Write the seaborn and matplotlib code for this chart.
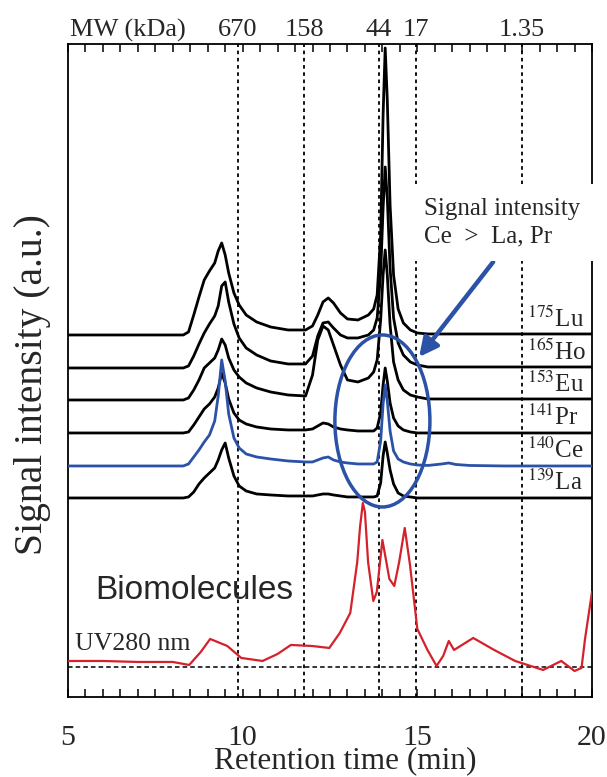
import numpy as np
import pandas as pd
import matplotlib
matplotlib.use("Agg")
import matplotlib.pyplot as plt
import matplotlib.transforms as mtransforms
from matplotlib.patches import Ellipse
from matplotlib.ticker import MultipleLocator
import seaborn as sns

sns.set_theme(style="white")
plt.rcParams["font.family"] = ["Liberation Serif", "DejaVu Serif"]
plt.rcParams["mathtext.fontset"] = "stix"

# --- ICP-MS traces (heights above each trace's own baseline, a.u.) ---
ICP_TIME = [5.0, 8.3, 8.45, 8.6, 8.75, 8.9, 9.05, 9.2, 9.3, 9.4, 9.5, 9.6, 9.75,
            9.9, 10.1, 10.4, 10.8, 11.3, 11.8, 12.0, 12.15, 12.3, 12.45, 12.6,
            12.8, 13.0, 13.3, 13.6, 13.75, 13.85, 13.95, 14.02, 14.08, 14.14,
            14.22, 14.32, 14.45, 14.6, 14.8, 15.0, 15.3, 15.7, 15.9, 16.1, 16.5,
            17.5, 18.5, 19.5, 20.0]

LU_175 = [0, 0, 3, 20, 38, 55, 64, 72, 84, 92, 80, 62, 42,
          30, 20, 13, 8, 5, 5, 9, 20, 33, 37, 32,
          22, 16, 15, 20, 26, 40, 100, 220, 287, 235,
          130, 60, 26, 12, 5, 2, 1, 1, 1, 1, 1,
          1, 1, 1, 1]
HO_165 = [0, 0, 2, 12, 24, 35, 44, 52, 62, 82, 86, 66, 44,
          30, 20, 13, 7, 4, 4, 12, 32, 45, 46, 40,
          33, 30, 30, 33, 38, 50, 95, 160, 201, 170,
          100, 50, 25, 13, 6, 3, 1, 1, 1, 1, 1,
          1, 1, 1, 1]
EU_153 = [0, 0, 2, 10, 20, 32, 37, 42, 50, 61, 55, 42, 30,
          23, 17, 12, 8, 5, 4, 25, 60, 74, 70, 55,
          35, 20, 18, 22, 28, 40, 80, 125, 150, 125,
          75, 38, 20, 10, 5, 3, 1, 1, 1, 1, 1,
          1, 1, 1, 1]
PR_141 = [0, 0, 1, 8, 16, 24, 29, 36, 45, 60, 50, 34, 20,
          13, 9, 6, 4, 3, 3, 4, 7, 10, 9, 6,
          4, 3, 2, 2, 2, 5, 20, 48, 65, 52,
          30, 15, 7, 3, 1, 0, 0, 0, 0, 0, 0,
          0, 0, 0, 0]
CE_140 = [0, 0, 2, 9, 16, 24, 31, 45, 70, 106, 85, 52, 28,
          18, 12, 9, 7, 5, 4, 4, 6, 8, 9, 6,
          4, 3, 2, 2, 2, 4, 25, 62, 81, 65,
          35, 15, 7, 4, 2, 1, 0.5, 2, 3, 1.5, 0.5,
          0, 0, 0, 0]
LA_139 = [0, 0, 1, 6, 14, 20, 25, 30, 38, 48, 55, 40, 22,
          12, 7, 4, 3, 2, 2, 2, 3, 4, 4, 3,
          2, 1, 1, 1, 1, 2, 15, 42, 56, 45,
          28, 14, 5, 2, 1, 0, 0, 0, 0, 0, 0,
          0, 0, 0, 0]

ELEMENTS = ["139La", "140Ce", "141Pr", "153Eu", "165Ho", "175Lu"]
ELEMENT_HEIGHTS = [LA_139, CE_140, PR_141, EU_153, HO_165, LU_175]
ELEMENT_OFFSETS = [199, 231, 264, 297, 329, 362]
ELEMENT_LABELS = [r"$^{139}$La", r"$^{140}$Ce", r"$^{141}$Pr",
                  r"$^{153}$Eu", r"$^{165}$Ho", r"$^{175}$Lu"]

# --- UV 280 nm trace ---
UV_TIME = [5.0, 6.0, 7.0, 8.0, 8.47, 8.8, 9.07, 9.56, 9.96, 10.57, 11.0, 11.38,
           11.98, 12.48, 12.78, 13.08, 13.28, 13.36, 13.44, 13.5, 13.59, 13.74,
           13.84, 14.0, 14.2, 14.34, 14.48, 14.64, 14.79, 15.0, 15.29, 15.55,
           15.74, 15.9, 16.05, 16.6, 17.2, 17.8, 18.6, 19.12, 19.5, 19.7, 19.8, 20.0]
UV_280 = [36, 36, 35, 35, 32, 45, 58, 51, 39, 36, 43, 52,
          51, 49, 64, 84, 135, 170, 194, 185, 135, 96,
          105, 157, 118, 111, 135, 169, 132, 68, 47, 31,
          41, 56, 47, 59, 47, 36, 27, 36, 26, 29, 58, 105]
UV_BASELINE = 30

# --- molecular weight markers ---
MW_TIME = [9.87, 11.77, 13.9, 14.97, 18.0]
MW_LABELS = ["670", "158", "44", "17", "1.35"]

BLUE = "#2b52a6"
RED = "#d4212b"

frames = []
for name, heights, offset in zip(ELEMENTS, ELEMENT_HEIGHTS, ELEMENT_OFFSETS):
    frames.append(pd.DataFrame({
        "time": ICP_TIME,
        "signal": np.asarray(heights, dtype=float) + offset,
        "trace": name,
    }))
icp = pd.concat(frames, ignore_index=True)

palette = {name: "black" for name in ELEMENTS}
palette["140Ce"] = BLUE
draw_order = ["139La", "141Pr", "153Eu", "165Ho", "175Lu", "140Ce"]

fig = plt.figure(figsize=(6.07, 7.77), dpi=100)
ax = fig.add_axes([0.112, 0.103, 0.8633, 0.8404])

for t in MW_TIME:
    ax.axvline(t, color="black", lw=1.3, ls=(0, (2, 2)), zorder=1)
ax.axhline(UV_BASELINE, color="black", lw=1.1, ls=(0, (3, 2)), zorder=1)

sns.lineplot(data=icp, x="time", y="signal", hue="trace", hue_order=draw_order,
             palette=palette, estimator=None, sort=False, legend=False,
             linewidth=2.0, ax=ax, zorder=3)
sns.lineplot(x=UV_TIME, y=UV_280, color=RED, estimator=None, sort=False,
             linewidth=1.6, ax=ax, zorder=3)

for label, offset in zip(ELEMENT_LABELS, ELEMENT_OFFSETS):
    ax.text(18.14, offset + 3, label, fontsize=18, ha="left", va="bottom", zorder=4)

ax.add_patch(Ellipse((14.0, 276), width=2.72, height=172, fill=False,
                     edgecolor=BLUE, lw=2.5, zorder=5))
ax.annotate("", xy=(15.05, 340), xytext=(17.17, 435),
            arrowprops=dict(arrowstyle="-|>", color=BLUE, lw=3.2,
                            mutation_scale=28, shrinkA=0, shrinkB=0),
            zorder=5)
ax.text(15.2, 499, "Signal intensity\nCe  >  La, Pr", fontsize=18,
        ha="left", va="top", linespacing=1.3, zorder=6, clip_on=False,
        bbox=dict(facecolor="white", edgecolor="none", pad=10))

ax.text(5.77, 98, "Biomolecules", fontsize=24, family="Liberation Sans",
        ha="left", va="baseline")
ax.text(5.2, 47, "UV280 nm", fontsize=18.5, ha="left", va="baseline")

top = mtransforms.blended_transform_factory(ax.transData, ax.transAxes)
ax.text(5.06, 1.012, "MW (kDa)", transform=top, fontsize=19,
        ha="left", va="baseline")
for t, lab in zip(MW_TIME, MW_LABELS):
    ax.text(t, 1.012, lab, transform=top, fontsize=19, ha="center", va="baseline")

ax.set_xlim(5, 20)
ax.set_ylim(0, 653)
ax.xaxis.set_major_locator(MultipleLocator(5))
ax.xaxis.set_minor_locator(MultipleLocator(0.5))
ax.tick_params(axis="x", which="both", direction="in", top=True, bottom=True,
               length=6, width=1.1, color="black", labelsize=21.5, pad=20)
ax.set_yticks([])
for spine in ax.spines.values():
    spine.set_color("black")
    spine.set_linewidth(1.3)

ax.set_xlabel("Retention time (min)", fontsize=22.5, va="bottom")
ax.xaxis.set_label_coords(0.53, -0.1195)
ax.set_ylabel("Signal intensity (a.u.)", fontsize=28.5)
ax.yaxis.set_label_coords(-0.032, 0.479)

fig.savefig("out.png", dpi=100)
